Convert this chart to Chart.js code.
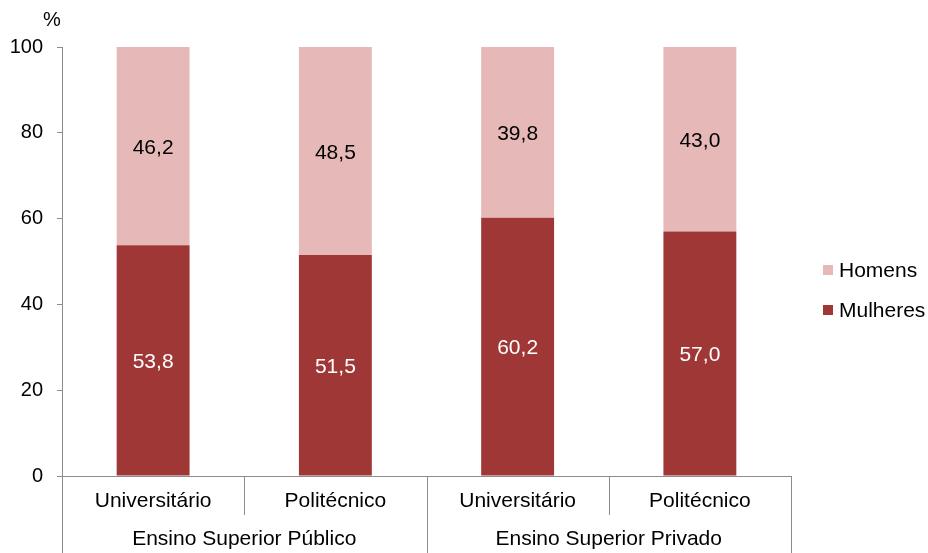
<!DOCTYPE html>
<html>
<head>
<meta charset="utf-8">
<script src="https://cdn.jsdelivr.net/npm/chart.js@4.4.0/dist/chart.umd.min.js"></script>
<style>
  html, body { margin: 0; padding: 0; background: #fff; }
  #wrap { width: 928px; height: 553px; }
</style>
</head>
<body>
<div id="wrap"><canvas id="chart"></canvas></div>
<script>
const tipos = ['Universitário', 'Politécnico', 'Universitário', 'Politécnico'];
const setores = ['Ensino Superior Público', 'Ensino Superior Privado'];
const mulheres = [53.8, 51.5, 60.2, 57.0];
const homens = [46.2, 48.5, 39.8, 43.0];
const yTicks = [0, 20, 40, 60, 80, 100];

const corMulheres = '#9e3735';
const corHomens = '#e6b9b8';
const cinza = '#8c8c8c';
const fonte = 'Liberation Sans, Arial, sans-serif';

function fmt(v) {
    return v.toFixed(1).replace('.', ',');
}

// labels inside the bars, separators, group labels, legend and unit
const extras = {
    id: 'extras',
    afterDraw(chart) {
        const ctx = chart.ctx;
        const x = chart.scales.x;
        const n = tipos.length;
        const step = (x.right - x.left) / n;

        ctx.save();
        ctx.font = '21px ' + fonte;
        ctx.textAlign = 'center';
        ctx.textBaseline = 'middle';
        chart.data.datasets.forEach((ds, di) => {
            const meta = chart.getDatasetMeta(di);
            meta.data.forEach((bar, i) => {
                ctx.fillStyle = di === 0 ? '#ffffff' : '#000000';
                ctx.fillText(fmt(ds.data[i]), bar.x, (bar.y + bar.base) / 2 + 2);
            });
        });

        // category separators
        ctx.strokeStyle = cinza;
        ctx.lineWidth = 1;
        for (let i = 0; i <= n; i++) {
            const bx = Math.round(x.left + i * step) + 0.5;
            const bottom = (i % 2 === 0) ? chart.height : x.top + 39;
            ctx.beginPath();
            ctx.moveTo(bx, x.top);
            ctx.lineTo(bx, bottom);
            ctx.stroke();
        }

        // group labels
        ctx.fillStyle = '#000';
        setores.forEach((s, g) => {
            const cx = x.left + (g * 2 + 1) * step;
            ctx.fillText(s, cx, 539);
        });

        // unit
        ctx.font = '20px ' + fonte;
        ctx.fillText('%', 52, 20);

        // legend
        const itens = [
            { text: 'Homens', color: corHomens, y: 270 },
            { text: 'Mulheres', color: corMulheres, y: 310 }
        ];
        ctx.font = '21px ' + fonte;
        ctx.textAlign = 'left';
        itens.forEach(it => {
            ctx.fillStyle = it.color;
            ctx.fillRect(823, it.y - 5, 10, 10);
            ctx.fillStyle = '#000';
            ctx.fillText(it.text, 839, it.y + 1);
        });
        ctx.restore();
    }
};

new Chart(document.getElementById('chart'), {
    type: 'bar',
    data: {
        labels: tipos,
        datasets: [
            { label: 'Mulheres', data: mulheres, backgroundColor: corMulheres },
            { label: 'Homens', data: homens, backgroundColor: corHomens }
        ]
    },
    options: {
        responsive: true,
        maintainAspectRatio: false,
        animation: false,
        layout: { padding: { top: 47, right: 137, left: 0, bottom: 0 } },
        datasets: {
            bar: { categoryPercentage: 1, barPercentage: 0.4 }
        },
        scales: {
            x: {
                stacked: true,
                grid: { display: false, drawTicks: false },
                border: { display: true, color: cinza, width: 1 },
                ticks: { color: '#000', font: { size: 21, family: fonte }, padding: 13, maxRotation: 0 },
                afterFit(scale) { scale.height = 77; }
            },
            y: {
                stacked: true,
                min: 0,
                max: 100,
                grid: { drawOnChartArea: false, tickLength: 5, color: cinza },
                border: { display: true, color: cinza, width: 1 },
                ticks: { color: '#000', font: { size: 20, family: fonte }, padding: 14 },
                afterBuildTicks(scale) { scale.ticks = yTicks.map(v => ({ value: v })); },
                afterFit(scale) { scale.width = 62; }
            }
        },
        plugins: {
            legend: { display: false },
            tooltip: { enabled: false }
        }
    },
    plugins: [extras]
});
</script>
</body>
</html>
